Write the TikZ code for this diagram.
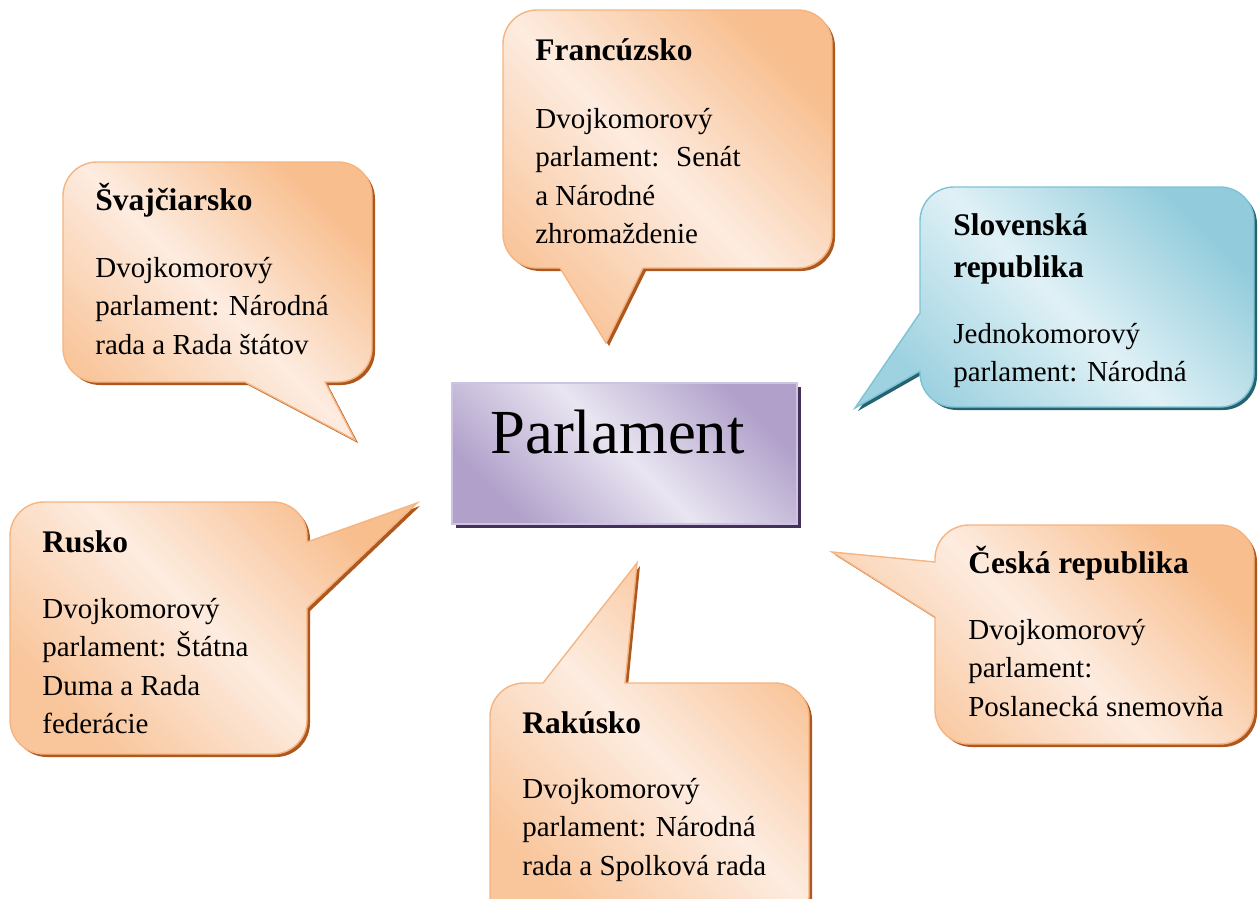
\documentclass[tikz,border=0pt]{standalone}
\usepackage{fontspec}
\setmainfont{Liberation Serif}
\usepackage{tikz}
\usetikzlibrary{
  positioning,
  shadows
}
\definecolor{ordark}{RGB}{248,190,142}
\definecolor{orlight}{RGB}{253,236,224}
\definecolor{orline}{RGB}{246,180,128}
\definecolor{orshadow}{RGB}{172,88,30}
\definecolor{bldark}{RGB}{146,204,220}
\definecolor{bllight}{RGB}{224,241,246}
\definecolor{blline}{RGB}{125,195,213}
\definecolor{blshadow}{RGB}{38,98,112}
\definecolor{pudark}{RGB}{176,160,202}
\definecolor{pulight}{RGB}{233,229,241}
\definecolor{puline}{RGB}{205,196,226}
\definecolor{pushadow}{RGB}{68,48,88}

% speech bubble: shadow copy first, then the shaded bubble
\newcommand{\speech}[2]{%
  \fill[#1 shadow, shift={(3,3)}] #2;
  \path[#1 bubble] #2;
}

\begin{document}
\begin{tikzpicture}[x=0.02cm, y=-0.02cm,
  or bubble/.style={draw=orline, line width=0.8pt, top color=ordark, bottom color=ordark!85!orlight, middle color=orlight, shading angle=-45},
  or shadow/.style={fill=orshadow},
  bl bubble/.style={draw=blline, line width=0.8pt, top color=bldark, bottom color=bldark!85!bllight, middle color=bllight, shading angle=-45},
  bl shadow/.style={fill=blshadow},
  rcorner/.style={rounded corners=0.68cm},
  pbox/.style={draw=puline, line width=0.8pt, top color=pudark, bottom color=pudark, middle color=pulight, shading angle=-45,
    minimum width=6.9cm, minimum height=2.82cm, inner sep=0pt,
    general shadow={fill=pushadow, shadow xshift=0.08cm, shadow yshift=-0.08cm}},
  ptext/.style={font=\fontsize{35.7}{40}\selectfont, inner sep=0pt, anchor=base west},
  title/.style={font=\fontsize{17.9}{23.8}\selectfont\bfseries, inner sep=0pt, anchor=base west, align=left},
  body/.style={font=\fontsize{16.5}{21.8}\selectfont, inner sep=0pt, anchor=north west, align=left}
]
  \useasboundingbox (0,0) rectangle (1258,899);

  % bubbles
  \speech{or}{(651,268) [rcorner] -- (832,268) -- (832,10) -- (503,10) -- (503,268)
    [sharp corners] -- (560,268) -- (606,343) -- (643,268) -- cycle}
  \speech{or}{(237,382) [rcorner] -- (63,382) -- (63,162) -- (372,162) -- (372,382)
    [sharp corners] -- (325,382) -- (355,440) -- (245,382) -- cycle}
  \speech{bl}{(920,305) [rcorner] -- (920,187) -- (1254,187) -- (1254,407) -- (920,407)
    [sharp corners] -- (920,371) -- (855,408) -- (920,313) -- cycle}
  \speech{or}{(307,616) [rcorner] -- (307,754) -- (10,754) -- (10,502) -- (307,502)
    [sharp corners] -- (307,542) -- (417,503) -- (307,608) -- cycle}
  \speech{or}{(935,625) [rcorner] -- (935,744) -- (1254,744) -- (1254,525) -- (935,525)
    [sharp corners] -- (935,562) -- (832,552) -- (935,617) -- cycle}
  \speech{or}{(535,683) [rcorner] -- (490,683) -- (490,930) -- (809,930) -- (809,683)
    [sharp corners] -- (625,683) -- (637,563) -- (543,683) -- cycle}

  % centre
  \node[pbox] (parl) at (624.5,453.5) {};
  \node[ptext] (parltxt) at (490,453) {Parlament};

  % texts
  \node[title] (frtitle) at (535,60) {Francúzsko};
  \node[body] (frbody) at (535,108) {Dvojkomorový\\ parlament: \ Senát\\ a Národné\\ zhromaždenie};

  \node[title] (svtitle) at (95,210) {Švajčiarsko};
  \node[body] (svbody) at (95,257) {Dvojkomorový\\ parlament: Národná\\ rada a Rada štátov};

  \node[title, anchor=north west] (sktitle) at (953,213) {Slovenská\\ republika};
  \node[body] (skbody) at (953,323) {Jednokomorový\\ parlament: Národná};

  \node[title] (rutitle) at (42,552) {Rusko};
  \node[body] (rubody) at (42,598) {Dvojkomorový\\ parlament: Štátna\\ Duma a Rada\\ federácie};

  \node[title] (cztitle) at (968,573) {Česká republika};
  \node[body] (czbody) at (968,619) {Dvojkomorový\\ parlament:\\ Poslanecká snemovňa};

  \node[title] (ratitle) at (522,733) {Rakúsko};
  \node[body] (rabody) at (522,778) {Dvojkomorový\\ parlament: Národná\\ rada a Spolková rada};
\end{tikzpicture}
\end{document}
